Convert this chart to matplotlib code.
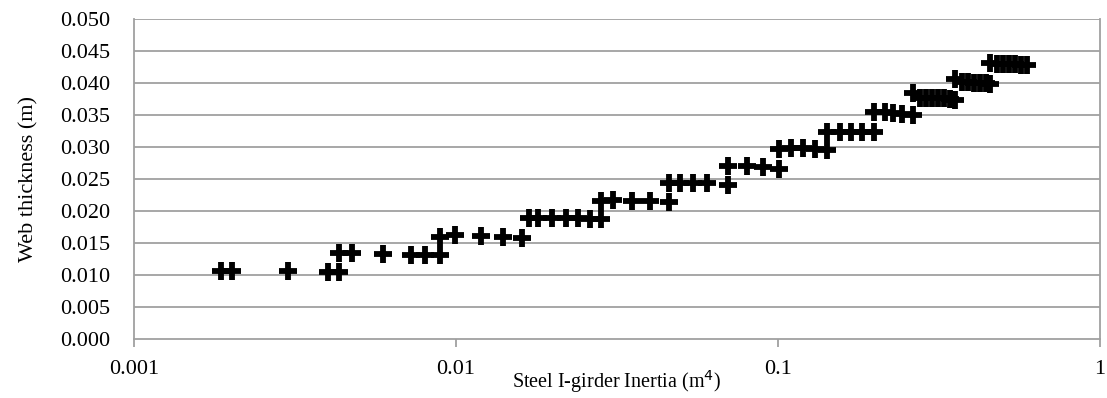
import matplotlib
matplotlib.use("Agg")
import matplotlib.pyplot as plt
from matplotlib.ticker import FixedLocator, FixedFormatter, NullLocator

plt.rcParams['font.family'] = ['Liberation Serif', 'DejaVu Serif']

# Inertia (m4) e espessura da alma (m)
inercia = [0.00186, 0.00201, 0.00301, 0.00399, 0.00434, 0.00434, 0.00476, 0.00594,
           0.00723, 0.00801, 0.00892, 0.00892, 0.00993, 0.0120, 0.0140, 0.0160,
           0.0168, 0.0180, 0.0198, 0.0220, 0.0240, 0.0261, 0.0283, 0.0283,
           0.0308, 0.0351, 0.0400, 0.0459, 0.0459, 0.0496, 0.0546, 0.0601,
           0.0697, 0.0697, 0.080, 0.090, 0.101, 0.101, 0.110, 0.120, 0.130,
           0.1416, 0.1416, 0.156, 0.169, 0.182, 0.198, 0.198, 0.215, 0.228,
           0.242, 0.263, 0.263, 0.276, 0.288, 0.301, 0.314, 0.328, 0.342,
           0.355, 0.355, 0.373, 0.389, 0.406, 0.424, 0.443, 0.455, 0.455,
           0.479, 0.500, 0.522, 0.545, 0.568, 0.593]
espessura = [0.0107, 0.0107, 0.0107, 0.0104, 0.0104, 0.0135, 0.0135, 0.0133,
             0.0131, 0.0131, 0.0131, 0.0160, 0.0163, 0.0161, 0.0160, 0.0158,
             0.0189, 0.0189, 0.0189, 0.0189, 0.0189, 0.0188, 0.0188, 0.0216,
             0.0217, 0.0216, 0.0215, 0.0214, 0.0243, 0.0243, 0.0243, 0.0243,
             0.0241, 0.0270, 0.0270, 0.0268, 0.0266, 0.0297, 0.0298, 0.0298, 0.0297,
             0.0295, 0.0324, 0.0324, 0.0324, 0.0323, 0.0323, 0.0354, 0.0354, 0.0353,
             0.0352, 0.0350, 0.0384, 0.0377, 0.0377, 0.0377, 0.0377, 0.0376, 0.0375,
             0.0373, 0.0406, 0.0401, 0.0401, 0.0400, 0.0400, 0.0400, 0.0399, 0.0432,
             0.0429, 0.0429, 0.0429, 0.0429, 0.0428, 0.0428]

x_ticks = [0.001, 0.01, 0.1, 1]
x_labels = ["0.001", "0.01", "0.1", "1"]
y_ticks = [0.000, 0.005, 0.010, 0.015, 0.020, 0.025, 0.030, 0.035, 0.040, 0.045, 0.050]

fig = plt.figure(figsize=(11.07, 3.98), dpi=100)
ax = fig.add_axes([134 / 1107, 59 / 398, 966 / 1107, 320 / 398])

cinza = "#a0a0a0"
for y in y_ticks[1:]:
    ax.axhline(y, color=cinza, lw=1.3, zorder=1)

ax.plot(inercia, espessura, linestyle="none", marker="+", markersize=13.5,
        markeredgewidth=4.2, color="black", zorder=3)

ax.set_xscale("log")
ax.set_xlim(0.001, 1)
ax.set_ylim(0, 0.05)
ax.xaxis.set_major_locator(FixedLocator(x_ticks))
ax.xaxis.set_major_formatter(FixedFormatter(x_labels))
ax.xaxis.set_minor_locator(NullLocator())
ax.set_yticks(y_ticks)
ax.set_yticklabels([f"{v:.3f}" for v in y_ticks])

for lado in ["left", "bottom", "right"]:
    ax.spines[lado].set_color(cinza)
    ax.spines[lado].set_linewidth(1.3)
ax.spines["top"].set_visible(False)

ax.tick_params(axis="x", direction="out", length=6, width=1.3, color=cinza,
               labelsize=16, pad=9)
ax.tick_params(axis="y", length=0, labelsize=16, pad=17)

ax.set_xlabel("Steel I-girder Inertia (m$^{4}$)", fontsize=14.5, labelpad=-8)
ax.set_ylabel("Web thickness (m)", fontsize=16, labelpad=16)

fig.savefig("out.png", dpi=100)
